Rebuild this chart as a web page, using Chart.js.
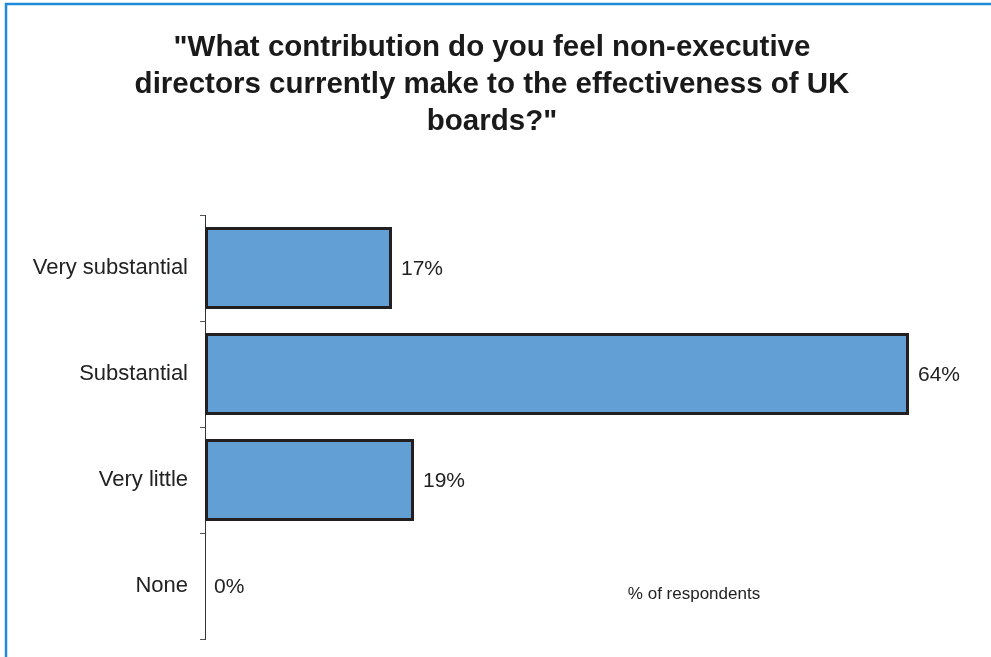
<!DOCTYPE html>
<html>
<head>
<meta charset="utf-8">
<script src="https://cdn.jsdelivr.net/npm/chart.js@4"></script>
<style>
  html, body { margin: 0; padding: 0; background: #ffffff; }
  #wrap { width: 991px; height: 657px; position: relative; }
</style>
</head>
<body>
<div id="wrap"><canvas id="chart" width="991" height="657"></canvas></div>
<script>
// Survey answers and share of respondents (%)
const categories = ["Very substantial", "Substantial", "Very little", "None"];
const shares = [17, 64, 19, 0];
const titleLines = [
  "\"What contribution do you feel non-executive",
  "directors currently make to the effectiveness of UK",
  "boards?\""
];
const unitLabel = "% of respondents";

const FONT = "Arial, 'Liberation Sans', sans-serif";

// Frame line and the question heading
const framePlugin = {
  id: 'frame',
  beforeDraw(chart) {
    const ctx = chart.ctx;
    ctx.save();
    ctx.fillStyle = '#ffffff';
    ctx.fillRect(0, 0, chart.width, chart.height);
    ctx.strokeStyle = '#1f8ad9';
    ctx.lineWidth = 2.5;
    ctx.beginPath();
    ctx.moveTo(6, chart.height + 5);
    ctx.lineTo(6, 4);
    ctx.lineTo(chart.width + 5, 4);
    ctx.stroke();

    ctx.fillStyle = '#1a1a1a';
    ctx.font = 'bold 29.5px ' + FONT;
    ctx.textAlign = 'center';
    ctx.textBaseline = 'alphabetic';
    titleLines.forEach((line, i) => {
      ctx.fillText(line, 492, 55.5 + i * 37);
    });
    ctx.restore();
  }
};

// Value labels at the end of each bar, plus the unit note
const valueLabels = {
  id: 'valueLabels',
  afterDatasetsDraw(chart) {
    const ctx = chart.ctx;
    const meta = chart.getDatasetMeta(0);
    ctx.save();
    ctx.fillStyle = '#222222';
    ctx.font = '21px ' + FONT;
    ctx.textAlign = 'left';
    ctx.textBaseline = 'middle';
    meta.data.forEach((bar, i) => {
      ctx.fillText(shares[i] + '%', bar.x + 9, bar.y + 1);
    });
    const area = chart.chartArea;
    ctx.font = '17px ' + FONT;
    ctx.textAlign = 'center';
    ctx.fillText(unitLabel, area.left + 489, area.bottom - 45);
    ctx.restore();
  }
};

new Chart(document.getElementById('chart'), {
  type: 'bar',
  data: {
    labels: categories,
    datasets: [{
      data: shares,
      backgroundColor: '#629fd5',
      borderColor: '#231f20',
      borderWidth: 3,
      borderSkipped: false,
      categoryPercentage: 1,
      barPercentage: 0.775
    }]
  },
  options: {
    indexAxis: 'y',
    responsive: false,
    animation: false,
    layout: { padding: { top: 215, right: 16, bottom: 18, left: 0 } },
    plugins: {
      legend: { display: false },
      title: { display: false },
      tooltip: { enabled: false }
    },
    scales: {
      x: {
        display: false,
        min: 0,
        max: 70
      },
      y: {
        afterFit(scale) {
          scale.width = 205;
          scale.paddingTop = 0;
          scale.paddingBottom = 0;
        },
        border: { display: true, color: '#333333', width: 1 },
        grid: {
          offset: true,
          drawOnChartArea: false,
          drawTicks: true,
          tickLength: 5,
          color: '#555555'
        },
        ticks: {
          color: '#222222',
          padding: 12,
          font: { family: FONT, size: 22 }
        }
      }
    }
  },
  plugins: [framePlugin, valueLabels]
});
</script>
</body>
</html>
